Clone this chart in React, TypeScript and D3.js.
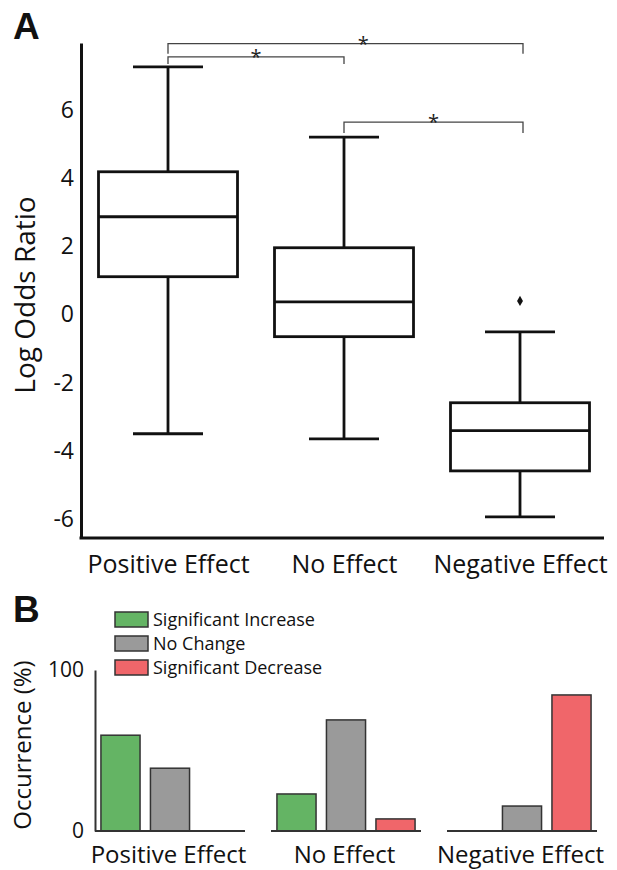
import React, { useEffect, useRef } from "react";
import * as d3 from "d3";

const categories = ["Positive Effect", "No Effect", "Negative Effect"];

// panel A: box plot stats (log odds ratio)
const whiskerLow = [-3.5, -3.65, -5.94];
const quartile1 = [1.11, -0.65, -4.59];
const medians = [2.87, 0.37, -3.41];
const quartile3 = [4.19, 1.96, -2.59];
const whiskerHigh = [7.27, 5.21, -0.51];
const outliers: number[][] = [[], [], [0.4]];
const logOddsTicks = [-6, -4, -2, 0, 2, 4, 6];

// significance brackets (category index from/to, level in log odds)
const bracketFrom = [0, 0, 1];
const bracketTo = [2, 1, 2];
const bracketLevel = [7.95, 7.56, 5.65];
const bracketLabel = ["*", "*", "*"];

// panel B: occurrence (%)
const seriesNames = ["Significant Increase", "No Change", "Significant Decrease"];
const significantIncrease = [59.5, 23, 0];
const noChange = [39, 69, 15.5];
const significantDecrease = [0.5, 7.5, 84.5];
const occurrenceTicks = [0, 100];

const seriesColors = ["#64b464", "#9a9a9a", "#f0666a"];
const font = "'Open Sans', sans-serif";
const ink = "#111";

export default function App() {
  const ref = useRef<SVGSVGElement>(null);

  useEffect(() => {
    const svg = d3.select(ref.current);
    svg.selectAll("*").remove();

    const xPos = d3.scalePoint<string>().domain(categories).range([168, 520]);

    // ---------- panel A ----------
    const yA = d3.scaleLinear().domain([-6.56, 7.97]).range([538, 43]);
    const gA = svg.append("g");

    gA.append("text")
      .attr("x", 13).attr("y", 39)
      .attr("font-family", "'Liberation Sans', Arial, sans-serif")
      .attr("font-weight", "bold").attr("font-size", 37).attr("fill", ink)
      .text("A");

    const yAxisA = d3.axisLeft(yA).tickValues(logOddsTicks).tickSize(0).tickSizeOuter(0)
      .tickPadding(7).tickFormat(d => String(d));
    const ya = gA.append("g").attr("transform", "translate(81,0)").call(yAxisA);
    ya.select(".domain").attr("stroke", ink).attr("stroke-width", 3);
    ya.selectAll("text").attr("font-family", font).attr("font-size", 23).attr("fill", ink);

    gA.append("line")
      .attr("x1", 79.5).attr("x2", 604)
      .attr("y1", yA.range()[0]).attr("y2", yA.range()[0])
      .attr("stroke", ink).attr("stroke-width", 3);

    const xa = gA.append("g").attr("transform", `translate(0,${yA.range()[0]})`)
      .call(d3.axisBottom(xPos).tickSize(0).tickPadding(17));
    xa.select(".domain").remove();
    xa.selectAll("text").attr("font-family", font).attr("font-size", 25).attr("fill", ink);

    gA.append("text")
      .attr("transform", "translate(35,295) rotate(-90)")
      .attr("text-anchor", "middle")
      .attr("font-family", font).attr("font-size", 28).attr("fill", ink)
      .text("Log Odds Ratio");

    const boxW = 139;
    const capW = 70;
    categories.forEach((c, i) => {
      const cx = xPos(c)!;
      const g = gA.append("g").attr("stroke", ink).attr("stroke-width", 2.8).attr("fill", "none");
      g.append("line").attr("x1", cx).attr("x2", cx).attr("y1", yA(whiskerLow[i])).attr("y2", yA(quartile1[i]));
      g.append("line").attr("x1", cx).attr("x2", cx).attr("y1", yA(quartile3[i])).attr("y2", yA(whiskerHigh[i]));
      g.append("line").attr("x1", cx - capW / 2).attr("x2", cx + capW / 2).attr("y1", yA(whiskerLow[i])).attr("y2", yA(whiskerLow[i]));
      g.append("line").attr("x1", cx - capW / 2).attr("x2", cx + capW / 2).attr("y1", yA(whiskerHigh[i])).attr("y2", yA(whiskerHigh[i]));
      g.append("rect")
        .attr("x", cx - boxW / 2).attr("width", boxW)
        .attr("y", yA(quartile3[i])).attr("height", yA(quartile1[i]) - yA(quartile3[i]))
        .attr("fill", "white");
      g.append("line").attr("x1", cx - boxW / 2).attr("x2", cx + boxW / 2).attr("y1", yA(medians[i])).attr("y2", yA(medians[i]));
      outliers[i].forEach(v => {
        gA.append("path")
          .attr("d", d3.symbol(d3.symbolDiamond).size(30)()!)
          .attr("transform", `translate(${cx},${yA(v)})`)
          .attr("fill", ink);
      });
    });

    const bracketDrop = [10, 7, 11];
    const starAt = [0.55, 0.5, 0.5];
    bracketFrom.forEach((f, i) => {
      const x1 = xPos(categories[f])!;
      const x2 = xPos(categories[bracketTo[i]])! + (bracketTo[i] === 2 ? 3 : 0);
      const y = yA(bracketLevel[i]);
      gA.append("path")
        .attr("d", `M${x1},${y + bracketDrop[i]}V${y}H${x2}V${y + bracketDrop[i]}`)
        .attr("fill", "none").attr("stroke", "#444").attr("stroke-width", 1.3);
      gA.append("text")
        .attr("x", x1 + (x2 - x1) * starAt[i]).attr("y", y + 7)
        .attr("text-anchor", "middle")
        .attr("font-family", font).attr("font-size", 20).attr("fill", "#222")
        .text(bracketLabel[i]);
    });

    // ---------- panel B ----------
    const yB = d3.scaleLinear().domain([0, 100]).range([831, 670]);
    const gB = svg.append("g");

    gB.append("text")
      .attr("x", 13).attr("y", 622)
      .attr("font-family", "'Liberation Sans', Arial, sans-serif")
      .attr("font-weight", "bold").attr("font-size", 37).attr("fill", ink)
      .text("B");

    const yb = gB.append("g").attr("transform", "translate(95,0)")
      .call(d3.axisLeft(yB).tickValues(occurrenceTicks).tickSize(0).tickSizeOuter(0).tickPadding(11));
    yb.select(".domain").attr("stroke", "#333").attr("stroke-width", 2);
    yb.selectAll("text").attr("font-family", font).attr("font-size", 21).attr("fill", ink);

    gB.append("text")
      .attr("transform", "translate(31,745) rotate(-90)")
      .attr("text-anchor", "middle")
      .attr("font-family", font).attr("font-size", 24).attr("fill", ink)
      .text("Occurrence (%)");

    const groupW = 150;
    const inner = d3.scaleBand<string>().domain(seriesNames).range([0, groupW])
      .paddingInner(0.21).paddingOuter(0.12);
    const seriesValues = [significantIncrease, noChange, significantDecrease];

    categories.forEach((c, i) => {
      const left = xPos(c)! - groupW / 2 + 2;
      seriesNames.forEach((s, k) => {
        const v = seriesValues[k][i];
        const h = yB(0) - yB(v);
        gB.append("rect")
          .attr("x", left + inner(s)!).attr("width", inner.bandwidth())
          .attr("y", yB(v)).attr("height", h)
          .attr("fill", seriesColors[k])
          .attr("stroke", h > 2 ? "#333" : "none").attr("stroke-width", 1.5);
      });
      gB.append("line")
        .attr("x1", left).attr("x2", left + groupW)
        .attr("y1", yB(0)).attr("y2", yB(0))
        .attr("stroke", "#333").attr("stroke-width", 2);
    });

    const xb = gB.append("g").attr("transform", `translate(0,${yB(0)})`)
      .call(d3.axisBottom(xPos).tickSize(0).tickPadding(15));
    xb.select(".domain").remove();
    xb.selectAll("text").attr("font-family", font).attr("font-size", 24).attr("fill", ink);

    const legend = gB.append("g").attr("transform", "translate(115,612)");
    seriesNames.forEach((s, k) => {
      const row = legend.append("g").attr("transform", `translate(0,${k * 24})`);
      row.append("rect").attr("width", 33).attr("height", 15)
        .attr("fill", seriesColors[k]).attr("stroke", "#333").attr("stroke-width", 1.5);
      row.append("text").attr("x", 38).attr("y", 7.5).attr("dy", "0.35em")
        .attr("font-family", font).attr("font-size", 18).attr("fill", ink)
        .text(s);
    });
  }, []);

  return (
    <svg ref={ref} width={617} height={870}
      style={{ position: "absolute", left: 0, top: 0, background: "white" }} />
  );
}
